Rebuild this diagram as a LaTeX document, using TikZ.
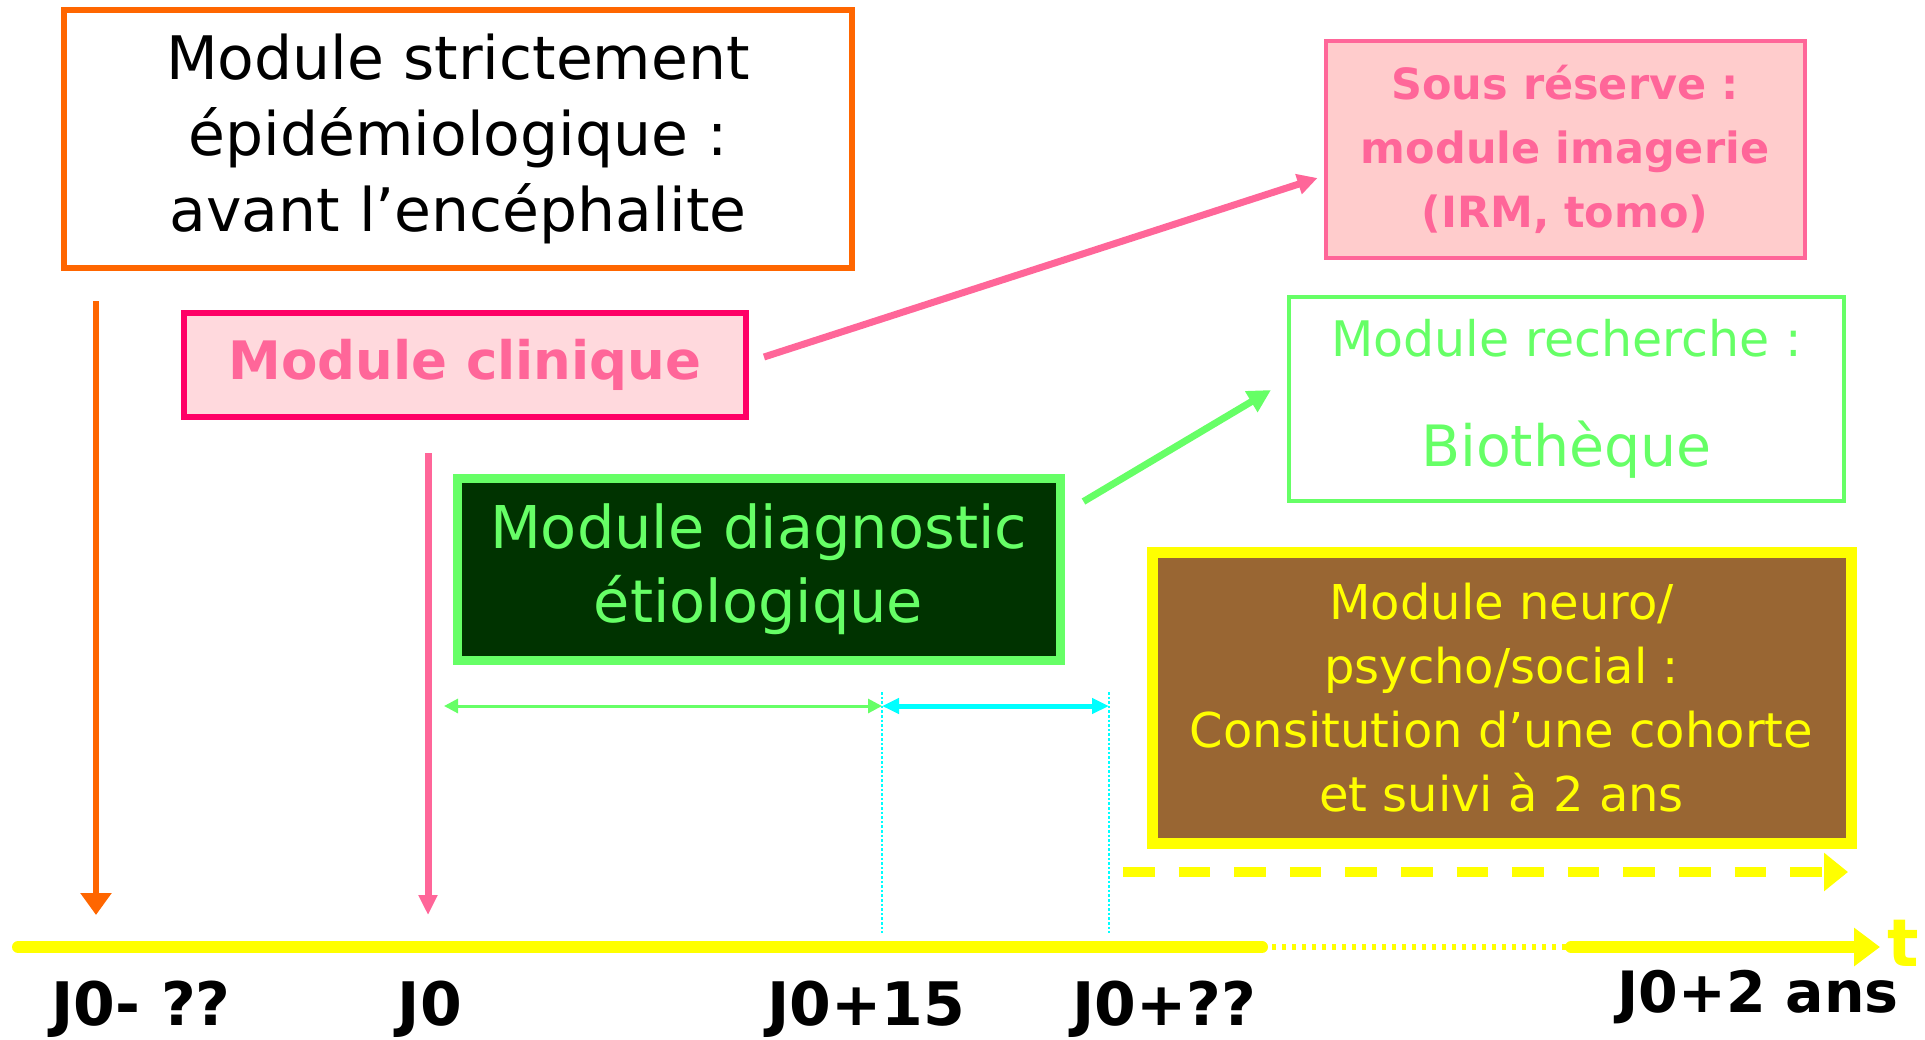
\documentclass[tikz,border=0pt]{standalone}
\usepackage{fontspec}
\setmainfont{DejaVu Sans}
\usetikzlibrary{positioning,arrows.meta}
\definecolor{orangeline}{HTML}{FF6600}
\definecolor{rosetext}{HTML}{FF6699}
\definecolor{roseline}{HTML}{FF0066}
\definecolor{rosefill}{HTML}{FFD9DD}
\definecolor{rosepale}{HTML}{FFCCCC}
\definecolor{vertclair}{HTML}{66FF66}
\definecolor{vertfonce}{HTML}{003300}
\definecolor{brun}{HTML}{996633}
\definecolor{jaune}{HTML}{FFFF00}
\definecolor{cyanline}{HTML}{00FFFF}

\begin{document}
\begin{tikzpicture}[x=0.5pt,y=-0.5pt]
  \tikzset{module/.style={draw,align=center,inner sep=0pt}}
  \tikzset{jalon/.style={font=\fontsize{30}{36}\selectfont\bfseries,anchor=base,inner sep=0pt}}
  \tikzset{fleche/.style={line width=3.5pt,-{Triangle[length=#1,width=#1]}}}

  \useasboundingbox (0,0) rectangle (1925,1039);

  \node[module,draw=orangeline,line width=3pt,minimum width=394pt,minimum height=129pt,
        font=\fontsize{30}{38}\selectfont] (epid) at (458,139)
        {Module strictement\\épidémiologique :\\avant l’encéphalite};
  \node[module,draw=roseline,fill=rosefill,line width=3pt,minimum width=281pt,minimum height=52pt,
        text=rosetext,font=\fontsize{26.5}{32}\selectfont\bfseries] (clinique) at (465,365)
        {Module clinique};
  \node[module,draw=rosetext,fill=rosepale,line width=2pt,minimum width=239.5pt,minimum height=108.5pt,
        text=rosetext,font=\fontsize{21.5}{32}\selectfont\bfseries] (imagerie) at (1565,149.5)
        {Sous réserve :\\module imagerie\\(IRM, tomo)};
  \node[module,draw=vertclair,line width=2pt,minimum width=277.5pt,minimum height=102pt,
        text=vertclair,font=\fontsize{24.5}{55}\selectfont] (recherche) at (1566.5,399)
        {Module recherche :\\{\fontsize{28.5}{55}\selectfont Biothèque}};
  \node[module,draw=vertclair,fill=vertfonce,line width=4.5pt,minimum width=301.5pt,minimum height=91pt,
        text=vertclair,font=\fontsize{29.5}{37}\selectfont] (diag) at (758.5,569)
        {Module diagnostic\\étiologique};
  \node[module,draw=jaune,fill=brun,line width=5.5pt,minimum width=349.5pt,minimum height=145.5pt,
        text=jaune,font=\fontsize{24}{32}\selectfont] (neuro) at (1501.5,697.5)
        {Module neuro/\\psycho/social :\\Consitution d’une cohorte\\et suivi à 2 ans};

  \coordinate (axeA) at (18,947);
  \coordinate (axeB) at (1262,947);
  \coordinate (axeC) at (1571,947);
  \coordinate (axeD) at (1880,947);
  \coordinate (t0m) at (96,947);
  \coordinate (t0) at (428,947);
  \coordinate (t15) at (882,947);
  \coordinate (tqq) at (1109,947);
  \coordinate (d0) at (444,706);
  \coordinate (d15) at (882,706);
  \coordinate (dqq) at (1109,706);
  \coordinate (suiviA) at (1123,872);
  \coordinate (suiviB) at (1848,872);

  \draw[jaune,line width=6pt,line cap=round] (axeA) -- (axeB);
  \draw[jaune,line width=3pt,dash pattern=on 2pt off 3pt] (axeB) -- (axeC);
  \draw[jaune,line width=6pt,line cap=round,-{Triangle[length=13pt,width=18.5pt]}] (axeC) -- (axeD);
  \node[text=jaune,font=\fontsize{33}{36}\selectfont\bfseries,anchor=base west,inner sep=0pt] (temps)
        at (1887,966) {t};

  \node[jalon] (l0m) at (141,1025) {J0- ??};
  \node[jalon] (l0) at (430,1025) {J0};
  \node[jalon] (l15) at (866,1025) {J0+15};
  \node[jalon] (lqq) at (1164,1025) {J0+??};
  \node[jalon,font=\fontsize{28.5}{34}\selectfont\bfseries] (l2a) at (1758,1012) {J0+2 ans};

  \draw[orangeline,line width=3pt,-{Triangle[length=11pt,width=15pt]},shorten <=15pt,shorten >=16pt]
        (epid.south -| t0m) -- (t0m);
  \draw[rosetext,line width=3.5pt,-{Triangle[length=10pt,width=9pt]},shorten <=16.5pt,shorten >=16pt]
        (clinique.south -| t0) -- (t0);
  \draw[rosetext,fleche=10pt] ([xshift=7.5pt,yshift=4pt]clinique.east) -- ([xshift=-3pt,yshift=-14.25pt]imagerie.west);
  \draw[vertclair,fleche=11.5pt] ([xshift=9.5pt,yshift=-14pt]diag.north east) -- ([xshift=-8pt,yshift=4.5pt]recherche.west);

  \draw[vertclair,line width=1.5pt,{Triangle[length=7pt,width=7pt]}-{Triangle[length=7pt,width=7pt]}] (d0) -- (d15);
  \draw[cyanline,line width=2.5pt,{Triangle[length=8.5pt,width=7.5pt]}-{Triangle[length=8.5pt,width=7.5pt]}] (d15) -- (dqq);
  \draw[cyanline,line width=1pt,dash pattern=on 1.3pt off 1pt] ([yshift=7pt]d15) -- ([yshift=7pt]t15);
  \draw[cyanline,line width=1.2pt,dash pattern=on 1.3pt off 1pt] ([yshift=7pt]dqq) -- ([yshift=7pt]tqq);

  \draw[jaune,line width=5pt,dash pattern=on 15.8pt off 12pt,-{Triangle[length=12pt,width=18.5pt]}] (suiviA) -- (suiviB);
\end{tikzpicture}
\end{document}
